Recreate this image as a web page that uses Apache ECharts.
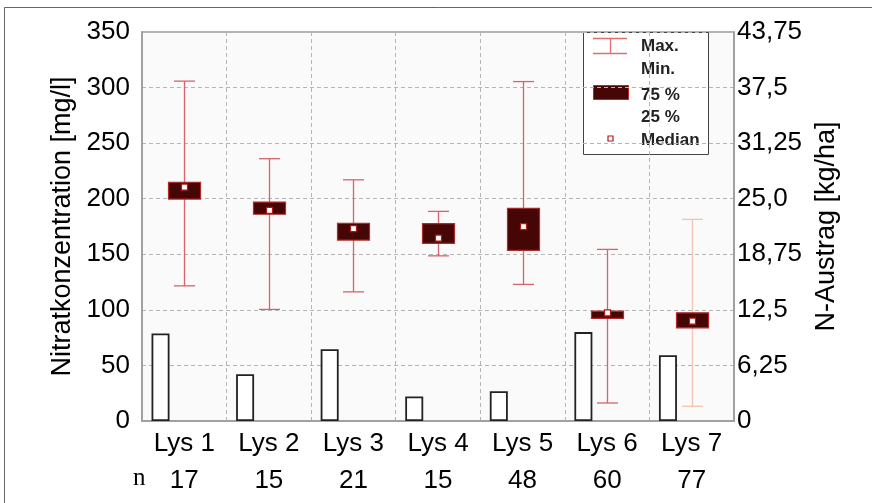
<!DOCTYPE html>
<html>
<head>
<meta charset="utf-8">
<script src="https://cdn.jsdelivr.net/npm/echarts@6/dist/echarts.min.js"></script>
<style>
html,body{margin:0;padding:0;background:#fff;}
#chart{width:872px;height:503px;}
</style>
</head>
<body>
<div id="chart"></div>
<script>
// ---- data ----
var categories = ['Lys 1','Lys 2','Lys 3','Lys 4','Lys 5','Lys 6','Lys 7'];
var nValues = [17, 15, 21, 15, 48, 60, 77];
var minVals = [121.6, 100.4, 116.2, 148.6, 122.9, 16.2, 13.2];
var q1Vals = [199.7, 186.0, 162.8, 159.8, 153.5, 92.3, 83.8];
var medianVals = [210.5, 189.5, 173.0, 164.6, 174.8, 97.3, 89.8];
var q3Vals = [214.8, 197.0, 177.8, 177.5, 191.4, 98.8, 97.3];
var maxVals = [305.8, 236.0, 217.0, 188.6, 305.4, 154.4, 181.4];
var nAustrag = [9.84, 5.25, 8.08, 2.75, 3.35, 10.0, 7.4];
var leftTicks = [0, 50, 100, 150, 200, 250, 300, 350];
var rightTickLabels = ['0', '6,25', '12,5', '18,75', '25,0', '31,25', '37,5', '43,75'];

// ---- styles ----
var FONT = 'Liberation Sans, Arial, sans-serif';
var whiskerColors = ['#d9636b','#d9636b','#d9636b','#d9636b','#d9636b','#d9636b','#f0c3b3'];

var boxData = categories.map(function (c, i) {
  return [i, minVals[i], q1Vals[i], medianVals[i], q3Vals[i], maxVals[i]];
});

var chart = echarts.init(document.getElementById('chart'), null, {renderer: 'canvas'});

var option = {
  animation: false,
  backgroundColor: '#ffffff',
  grid: {
    left: 142, right: 138, top: 32, bottom: 82,
    show: true, backgroundColor: '#fafafa', borderColor: '#9a9a9a', borderWidth: 1.5
  },
  xAxis: [{
    type: 'category',
    data: categories,
    boundaryGap: true,
    axisLine: {show: true, lineStyle: {color: '#9a9a9a', width: 1.5}},
    axisTick: {show: false},
    splitLine: {show: true, interval: 0, lineStyle: {color: '#b5b5b5', type: [4, 3], width: 1}},
    axisLabel: {
      interval: 0,
      margin: 4,
      color: '#000',
      fontFamily: FONT,
      fontSize: 26,
      lineHeight: 37,
      formatter: function (v, i) { return v + '\n' + nValues[i]; }
    }
  }],
  yAxis: [{
    type: 'value',
    min: leftTicks[0], max: leftTicks[leftTicks.length - 1], interval: 50,
    name: 'Nitratkonzentration [mg/l]',
    nameLocation: 'middle',
    nameGap: 62,
    nameRotate: 90,
    nameTextStyle: {color: '#000', fontFamily: FONT, fontSize: 27},
    axisLine: {show: true, lineStyle: {color: '#9a9a9a', width: 1.5}},
    axisTick: {show: false},
    axisLabel: {color: '#000', fontFamily: FONT, fontSize: 26, margin: 12},
    splitLine: {show: true, lineStyle: {color: '#b5b5b5', type: [4, 3], width: 1}}
  }, {
    type: 'value',
    min: 0, max: 43.75, interval: 6.25,
    position: 'right',
    name: 'N-Austrag [kg/ha]',
    nameLocation: 'middle',
    nameGap: 78,
    nameRotate: 90,
    nameTextStyle: {color: '#000', fontFamily: FONT, fontSize: 27},
    axisLine: {show: true, lineStyle: {color: '#9a9a9a', width: 1.5}},
    axisTick: {show: false},
    axisLabel: {
      color: '#000', fontFamily: FONT, fontSize: 26, margin: 3,
      formatter: function (v) {
        var idx = Math.round(v / 6.25);
        return rightTickLabels[idx];
      }
    },
    splitLine: {show: false}
  }],
  series: [{
    type: 'bar',
    yAxisIndex: 1,
    data: nAustrag,
    barWidth: 18,
    barGap: '164%',
    itemStyle: {color: '#ffffff', borderColor: '#222', borderWidth: 1.8},
    z: 3
  }, {
    type: 'bar',
    yAxisIndex: 1,
    data: categories.map(function () { return null; }),
    barWidth: 18,
    itemStyle: {color: 'transparent'}
  }, {
    type: 'custom',
    yAxisIndex: 0,
    data: boxData,
    z: 5,
    renderItem: function (params, api) {
      var x = api.value(0);
      var pMin = api.coord([x, api.value(1)]);
      var pQ1 = api.coord([x, api.value(2)]);
      var pMed = api.coord([x, api.value(3)]);
      var pQ3 = api.coord([x, api.value(4)]);
      var pMax = api.coord([x, api.value(5)]);
      var cx = Math.round(pMin[0]) + 0.5;
      var boxW = 32, capW = 21;
      var wc = whiskerColors[params.dataIndex];
      var ls = {stroke: wc, lineWidth: 1.3};
      return {
        type: 'group',
        children: [
          {type: 'line', shape: {x1: cx, y1: pMax[1], x2: cx, y2: pMin[1]}, style: ls},
          {type: 'line', shape: {x1: cx - capW / 2, y1: pMax[1], x2: cx + capW / 2, y2: pMax[1]}, style: ls},
          {type: 'line', shape: {x1: cx - capW / 2, y1: pMin[1], x2: cx + capW / 2, y2: pMin[1]}, style: ls},
          {type: 'rect', shape: {x: cx - boxW / 2, y: pQ3[1], width: boxW, height: pQ1[1] - pQ3[1]},
            style: {fill: '#460606', stroke: '#b02a2a', lineWidth: 1.2}},
          {type: 'rect', shape: {x: cx - 3, y: pMed[1] - 3, width: 6, height: 6},
            style: {fill: '#ffffff', stroke: '#b01818', lineWidth: 1.2}}
        ]
      };
    }
  }],
  graphic: [
    {type: 'rect', silent: true, z: -10, shape: {x: 4.5, y: 7.5, width: 900, height: 600},
      style: {fill: 'none', stroke: '#666', lineWidth: 1}},
    {type: 'text', left: 133, top: 466, style: {text: 'n', font: '25px "Liberation Serif", serif', fill: '#000'}},
    {type: 'group', z: 100, children: [
      {type: 'rect', shape: {x: 583.5, y: 32.5, width: 125, height: 122},
        style: {fill: '#ffffff', stroke: '#444', lineWidth: 1}},
      {type: 'line', shape: {x1: 593, y1: 38.5, x2: 627, y2: 38.5}, style: {stroke: '#e07070', lineWidth: 1.3}},
      {type: 'line', shape: {x1: 593, y1: 53.5, x2: 627, y2: 53.5}, style: {stroke: '#e07070', lineWidth: 1.3}},
      {type: 'line', shape: {x1: 610.5, y1: 38.5, x2: 610.5, y2: 53.5}, style: {stroke: '#e07070', lineWidth: 1.3}},
      {type: 'rect', shape: {x: 593.5, y: 85.5, width: 35, height: 14}, style: {fill: '#460606', stroke: '#b02a2a', lineWidth: 1}},
      {type: 'rect', shape: {x: 608, y: 136, width: 5, height: 5}, style: {fill: '#fff', stroke: '#b01818', lineWidth: 1.2}},
      {type: 'text', x: 641, y: 46, style: {text: 'Max.', font: 'bold 17px ' + FONT, fill: '#222', textVerticalAlign: 'middle'}},
      {type: 'text', x: 641, y: 69, style: {text: 'Min.', font: 'bold 17px ' + FONT, fill: '#222', textVerticalAlign: 'middle'}},
      {type: 'text', x: 641, y: 95, style: {text: '75 %', font: 'bold 17px ' + FONT, fill: '#222', textVerticalAlign: 'middle'}},
      {type: 'text', x: 641, y: 117, style: {text: '25 %', font: 'bold 17px ' + FONT, fill: '#222', textVerticalAlign: 'middle'}},
      {type: 'text', x: 641, y: 140, style: {text: 'Median', font: 'bold 17px ' + FONT, fill: '#222', textVerticalAlign: 'middle'}}
    ]}
  ]
};

chart.setOption(option);
</script>
</body>
</html>
